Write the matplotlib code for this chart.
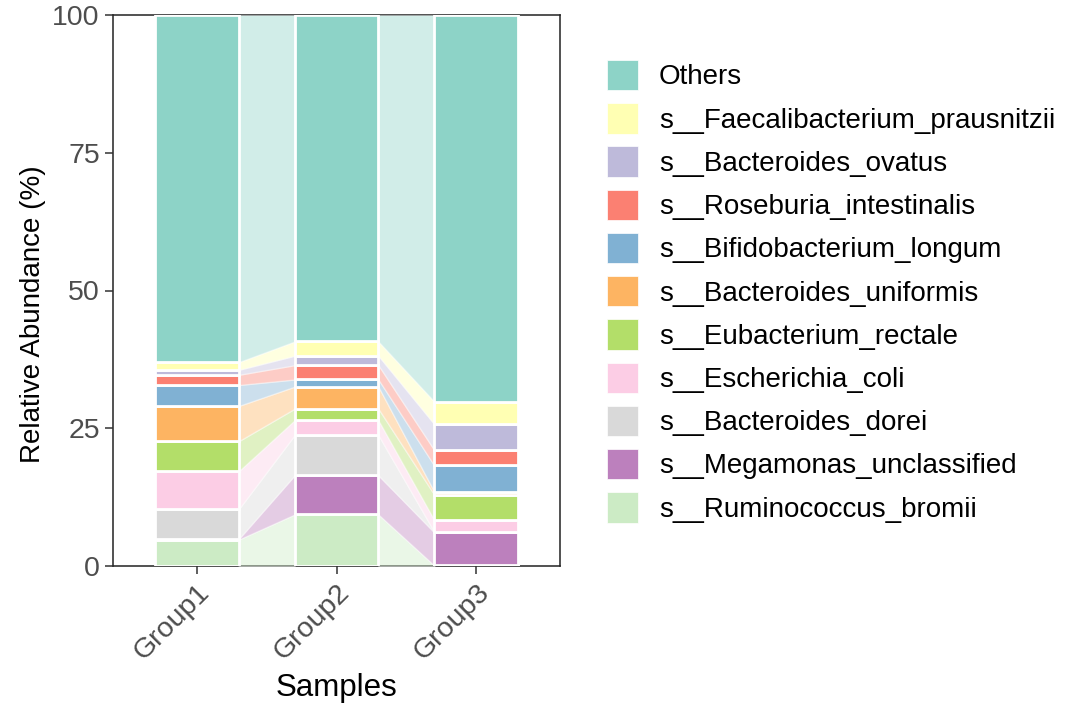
import numpy as np
import matplotlib.pyplot as plt
from matplotlib.patches import Patch

plt.rcParams['font.family'] = ['Liberation Sans', 'DejaVu Sans']

# Datos (porcentaje de abundancia relativa)
grupos = ['Group1', 'Group2', 'Group3']

# orden de apilado: de abajo hacia arriba
especies = ['s__Ruminococcus_bromii', 's__Megamonas_unclassified', 's__Bacteroides_dorei',
            's__Escherichia_coli', 's__Eubacterium_rectale', 's__Bacteroides_uniformis',
            's__Bifidobacterium_longum', 's__Roseburia_intestinalis', 's__Bacteroides_ovatus',
            's__Faecalibacterium_prausnitzii', 'Others']

ruminococcus = [4.8, 9.35, 0.1]
megamonas = [0.1, 7.1, 6.0]
dorei = [5.4, 7.3, 0.1]
coli = [6.9, 2.7, 2.15]
rectale = [5.45, 2.1, 4.6]
uniformis = [6.4, 4.0, 0.55]
longum = [3.8, 1.3, 4.75]
roseburia = [1.85, 2.6, 2.8]
ovatus = [0.9, 1.7, 4.7]
faecali = [1.4, 2.6, 4.1]
otros = [63.0, 59.25, 70.15]

colores = ['#CCEBC5', '#BC80BD', '#D9D9D9', '#FCCDE5', '#B3DE69', '#FDB462',
           '#80B1D3', '#FB8072', '#BEBADA', '#FFFFB3', '#8DD3C7']

valores = np.array([ruminococcus, megamonas, dorei, coli, rectale, uniformis,
                    longum, roseburia, ovatus, faecali, otros])
# normalizar a 100
valores = valores / valores.sum(axis=0) * 100
abajo = np.vstack([np.zeros(3), np.cumsum(valores, axis=0)[:-1]])
arriba = abajo + valores

x = np.arange(1, len(grupos) + 1)
ancho = 0.6

fig = plt.figure(figsize=(10.8, 7.2), dpi=100)
ax = fig.add_axes([113 / 1080, 1 - 566 / 720, (560 - 113) / 1080, (566 - 15) / 720])

# Flujos entre barras
for i in range(len(grupos) - 1):
    xs = [x[i] + ancho / 2, x[i + 1] - ancho / 2]
    for k in range(len(especies)):
        ax.fill_between(xs, [abajo[k, i], abajo[k, i + 1]], [arriba[k, i], arriba[k, i + 1]],
                        color=colores[k], alpha=0.4, edgecolor='white', linewidth=1.0, zorder=1)

# Barras apiladas
for k in range(len(especies)):
    ax.bar(x, valores[k], bottom=abajo[k], width=ancho, color=colores[k],
           edgecolor='white', linewidth=2.0, zorder=2)

ax.set_xlim(0.4, 3.6)
ax.set_ylim(0, 100)
ax.set_yticks([0, 25, 50, 75, 100])
ax.set_xticks(x)
ax.set_xticklabels(grupos, rotation=45, ha='right', rotation_mode='anchor')

for s in ax.spines.values():
    s.set_color('#222222')
    s.set_linewidth(1.1)
    s.set_zorder(0.5)

ax.tick_params(axis='both', colors='#333333', labelcolor='#4D4D4D', labelsize=20.5,
               length=6, width=1.1)
ax.set_xlabel('Samples', fontsize=22.5, labelpad=6)
ax.set_ylabel('Relative Abundance (%)', fontsize=20)
ax.yaxis.set_label_coords(-0.15, 0.457)

# Leyenda (de arriba hacia abajo)
handles = [Patch(facecolor=colores[k], edgecolor='white', linewidth=0.5, label=especies[k])
           for k in range(len(especies) - 1, -1, -1)]
fig.legend(handles=handles, loc='upper left', bbox_to_anchor=(607 / 1080, 1 - 60 / 720),
           frameon=False, fontsize=20, handlelength=1.12, handleheight=1.3,
           labelspacing=0.46, handletextpad=0.75, borderpad=0, borderaxespad=0)

fig.savefig('out.png', dpi=100)
